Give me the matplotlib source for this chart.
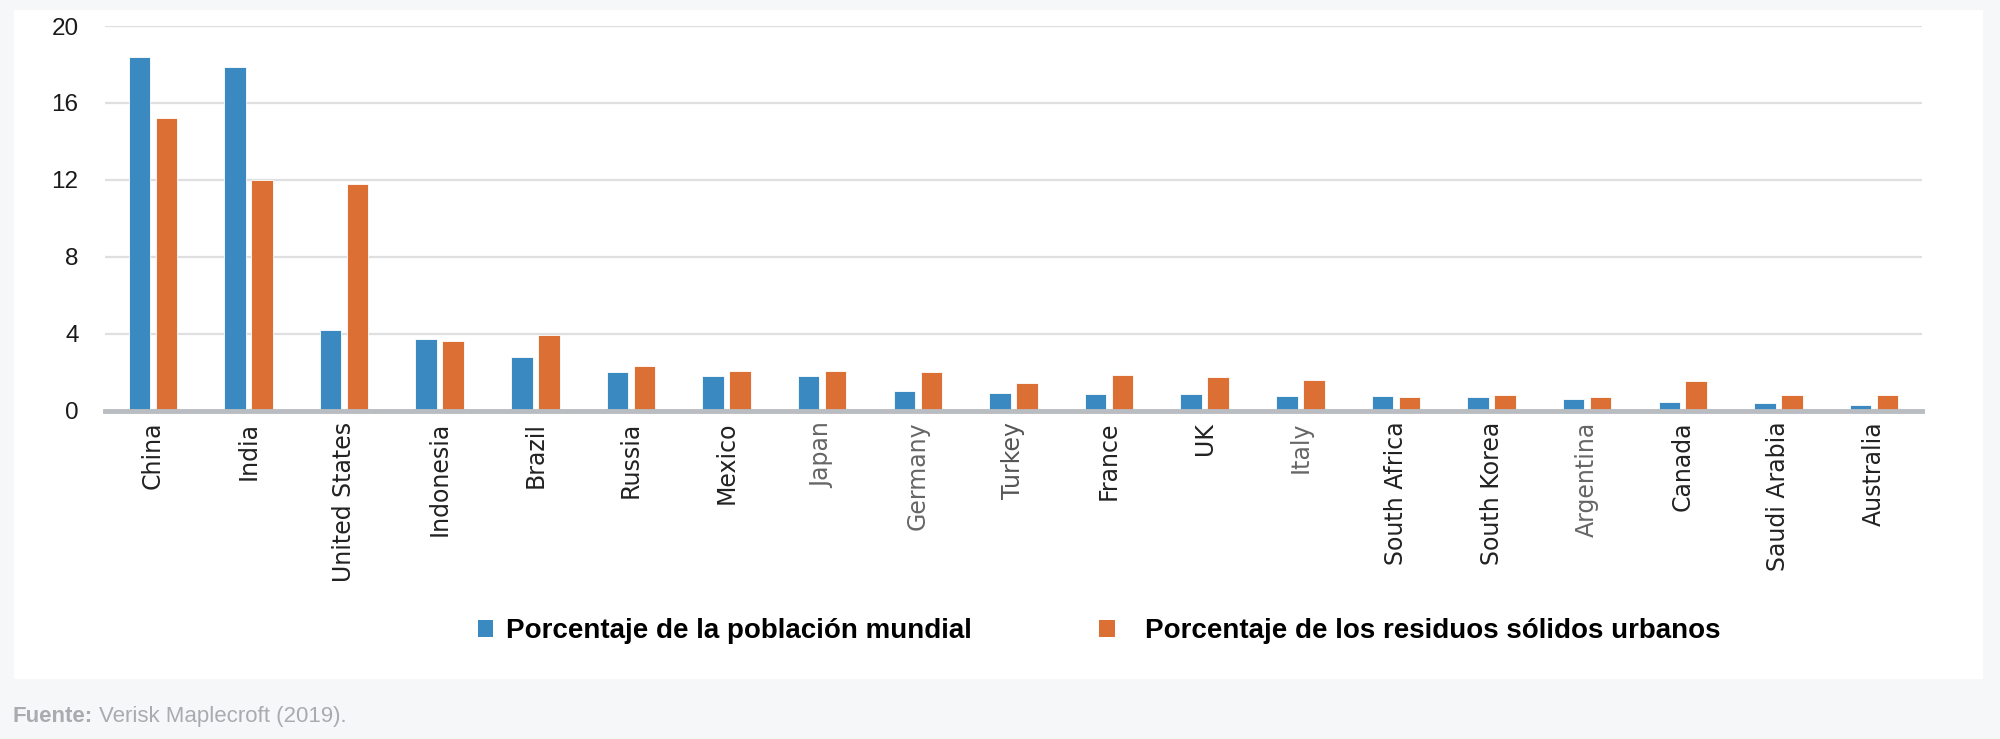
import matplotlib
matplotlib.use("Agg")
import matplotlib.pyplot as plt
from matplotlib.patches import Patch
import numpy as np

countries = ["China", "India", "United States", "Indonesia", "Brazil", "Russia", "Mexico",
             "Japan", "Germany", "Turkey", "France", "UK", "Italy", "South Africa",
             "South Korea", "Argentina", "Canada", "Saudi Arabia", "Australia"]
poblacion = [18.38, 17.88, 4.2, 3.73, 2.80, 2.0, 1.78, 1.78, 1.0, 0.90, 0.85, 0.85, 0.74,
             0.73, 0.71, 0.61, 0.45, 0.40, 0.28]
residuos = [15.21, 12.0, 11.79, 3.59, 3.91, 2.31, 2.04, 2.04, 1.99, 1.44, 1.84, 1.73, 1.58,
            0.69, 0.80, 0.68, 1.54, 0.80, 0.80]
label_colors = ["#222222", "#222222", "#222222", "#222222", "#222222", "#222222", "#222222",
                "#666666", "#666666", "#555555", "#222222", "#222222", "#666666", "#222222",
                "#222222", "#666666", "#222222", "#222222", "#222222"]
yticks = [0, 4, 8, 12, 16, 20]
series_names = ["Porcentaje de la población mundial", "Porcentaje de los residuos sólidos urbanos"]
source_bold = "Fuente:"
source_text = "Verisk Maplecroft (2019)."

BLUE = "#3a89c1"
ORANGE = "#dc7034"

fig = plt.figure(figsize=(20, 7.39), dpi=100)
fig.patch.set_facecolor("#f6f7f9")

bg = fig.add_axes([0.007, 0.081, 0.9845, 0.905], zorder=-5)
bg.set_facecolor("white")
bg.set_xticks([]); bg.set_yticks([])
for s in bg.spines.values():
    s.set_visible(False)

ax = fig.add_axes([0.0525, 0.4445, 0.9084, 0.5203], zorder=1)
ax.set_facecolor("none")
x = np.arange(len(countries))
w = 0.225
off = 0.141
ax.bar(x - off, poblacion, w, color=BLUE, edgecolor="white", linewidth=0.6, zorder=3)
ax.bar(x + off, residuos, w, color=ORANGE, edgecolor="white", linewidth=0.6, zorder=3)

ax.set_xlim(-0.5, len(countries) - 0.5)
ax.set_ylim(0, 20)
ax.set_yticks(yticks)
ax.set_yticklabels([str(v) for v in yticks], family=["Liberation Sans Narrow", "Liberation Sans"],
                   fontsize=17.5, color="#1a1a1a")
ax.tick_params(axis="y", length=0, pad=19)
ax.set_xticks(x)
ax.set_xticklabels(countries, rotation=90, family=["DejaVu Sans"], fontsize=17)
for lbl, c in zip(ax.get_xticklabels(), label_colors):
    lbl.set_color(c)
ax.tick_params(axis="x", length=0, pad=8)
ax.yaxis.grid(True, color="#dedfe0", linewidth=1.6, zorder=0)
ax.set_axisbelow(True)
for s in ["top", "right", "left"]:
    ax.spines[s].set_visible(False)
ax.spines["bottom"].set_color("#b9bdc2")
ax.spines["bottom"].set_linewidth(3.5)
ax.spines["bottom"].set_zorder(4)

leg_prop = {"family": "Liberation Sans", "weight": "bold", "size": 20}
fig.legend([Patch(facecolor=BLUE, edgecolor="none")], [series_names[0]], loc="center left",
           bbox_to_anchor=(0.239, 0.146), frameon=False, prop=leg_prop, borderpad=0,
           borderaxespad=0, handlelength=0.55, handleheight=0.55, handletextpad=0.46)
fig.legend([Patch(facecolor=ORANGE, edgecolor="none")], [series_names[1]], loc="center left",
           bbox_to_anchor=(0.5497, 0.146), frameon=False, prop=leg_prop, borderpad=0,
           borderaxespad=0, handlelength=0.55, handleheight=0.55, handletextpad=1.1)

t = fig.text(0.0065, 0.030, source_bold, fontsize=16, color="#a9abae", weight="bold",
             family=["Liberation Sans Narrow", "Liberation Sans"], va="center")
fig.canvas.draw()
bb = t.get_window_extent()
fig.text(bb.x1 / fig.bbox.width + 0.003, 0.030, source_text, fontsize=16, color="#a9abae",
         family=["Liberation Sans Narrow", "Liberation Sans"], va="center")

fig.savefig("out.png", dpi=100, facecolor=fig.get_facecolor())
